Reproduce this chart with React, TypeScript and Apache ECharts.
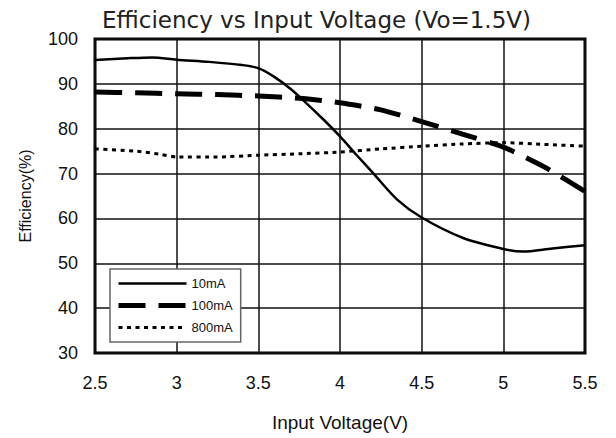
import React, { useEffect, useRef } from "react";
import * as echarts from "echarts";

const titleText = "Efficiency vs Input Voltage (Vo=1.5V)";
const xAxisName = "Input Voltage(V)";
const yAxisName = "Efficiency(%)";
const seriesNames = ["10mA", "100mA", "800mA"];

const v10 = [2.5, 2.7, 2.85, 3.0, 3.2, 3.4, 3.5, 3.6, 3.7, 3.8, 3.9, 4.0, 4.1, 4.2, 4.35, 4.5, 4.75, 5.0, 5.12, 5.3, 5.5];
const e10 = [95.3, 95.7, 95.9, 95.4, 94.9, 94.2, 93.5, 91.5, 88.8, 85.5, 82.0, 78.3, 74.2, 70.2, 64.2, 60.2, 55.7, 53.2, 52.6, 53.3, 54.0];

const v100 = [2.5, 2.75, 3.0, 3.25, 3.5, 3.75, 4.0, 4.25, 4.5, 4.75, 5.0, 5.25, 5.5];
const e100 = [88.2, 88.0, 87.8, 87.6, 87.3, 86.8, 85.8, 84.2, 81.6, 78.8, 75.9, 71.5, 66.0];

const v800 = [2.5, 2.75, 2.9, 3.0, 3.25, 3.5, 3.75, 4.0, 4.25, 4.5, 4.75, 5.0, 5.25, 5.5];
const e800 = [75.5, 75.0, 74.3, 73.7, 73.7, 74.1, 74.4, 74.8, 75.5, 76.1, 76.6, 76.9, 76.5, 76.1];

const zip = (xs: number[], ys: number[]) => xs.map((x, i) => [x, ys[i]]);

const FONT = "Liberation Sans, Arial, sans-serif";

export default function App() {
  const ref = useRef<HTMLDivElement>(null);
  useEffect(() => {
    if (!ref.current) return;
    const chart = echarts.init(ref.current, undefined, { renderer: "svg" });
    const lineStyles = [
      { color: "#000", width: 2.5, type: "solid" as any },
      { color: "#000", width: 5, type: [27, 13] as any },
      { color: "#000", width: 3, type: [4, 4.5] as any },
    ];
    const hidden = { color: "rgba(0,0,0,0)", borderWidth: 0, borderColor: "rgba(0,0,0,0)", opacity: 0 };
    chart.setOption({
      animation: false,
      backgroundColor: "#fff",
      textStyle: { fontFamily: FONT, color: "#111" },
      title: {
        text: titleText,
        left: 97,
        top: 3,
        textStyle: { fontFamily: "DejaVu Sans, sans-serif", fontSize: 23, fontWeight: "normal", color: "#222" },
      },
      grid: {
        left: 95,
        right: 31,
        top: 39,
        bottom: 85,
        show: true,
        borderColor: "#000",
        borderWidth: 3,
        containLabel: false,
      },
      legend: {
        orient: "vertical",
        left: 110,
        top: 269,
        padding: [8, 8, 8, 6],
        itemWidth: 68,
        itemHeight: 14,
        itemGap: 9,
        borderColor: "#666",
        borderWidth: 1.5,
        backgroundColor: "#fff",
        itemStyle: hidden,
        textStyle: { fontFamily: FONT, fontSize: 13, color: "#111" },
        data: seriesNames.map((n, i) => ({ name: n, lineStyle: { ...lineStyles[i] }, itemStyle: hidden })),
      },
      xAxis: {
        type: "value",
        min: 2.5,
        max: 5.5,
        interval: 0.5,
        name: xAxisName,
        nameLocation: "middle",
        nameGap: 60,
        nameTextStyle: { fontFamily: FONT, fontSize: 19, color: "#111" },
        axisLine: { show: false },
        axisTick: { show: false },
        axisLabel: { margin: 21, fontSize: 18, color: "#111", fontFamily: FONT },
        splitLine: { show: true, lineStyle: { color: "#111", width: 1.5 } },
      },
      yAxis: {
        type: "value",
        min: 30,
        max: 100,
        interval: 10,
        name: yAxisName,
        nameLocation: "middle",
        nameGap: 62,
        nameTextStyle: { fontFamily: FONT, fontSize: 16, color: "#111" },
        axisLine: { show: false },
        axisTick: { show: false },
        axisLabel: { margin: 17, fontSize: 18, color: "#111", fontFamily: FONT },
        splitLine: { show: true, lineStyle: { color: "#111", width: 1.5 } },
      },
      series: [
        {
          name: seriesNames[0],
          type: "line",
          symbol: "none",
          smooth: 0.3,
          data: zip(v10, e10),
          lineStyle: lineStyles[0],
          itemStyle: { color: "#000" },
          z: 3,
        },
        {
          name: seriesNames[1],
          type: "line",
          symbol: "none",
          smooth: 0.2,
          data: zip(v100, e100),
          lineStyle: lineStyles[1],
          itemStyle: { color: "#000" },
          z: 3,
        },
        {
          name: seriesNames[2],
          type: "line",
          symbol: "none",
          smooth: 0.2,
          data: zip(v800, e800),
          lineStyle: lineStyles[2],
          itemStyle: { color: "#000" },
          z: 3,
        },
      ],
    });
    return () => chart.dispose();
  }, []);
  return <div ref={ref} style={{ width: 616, height: 438, position: "absolute", left: 0, top: 0 }} />;
}
